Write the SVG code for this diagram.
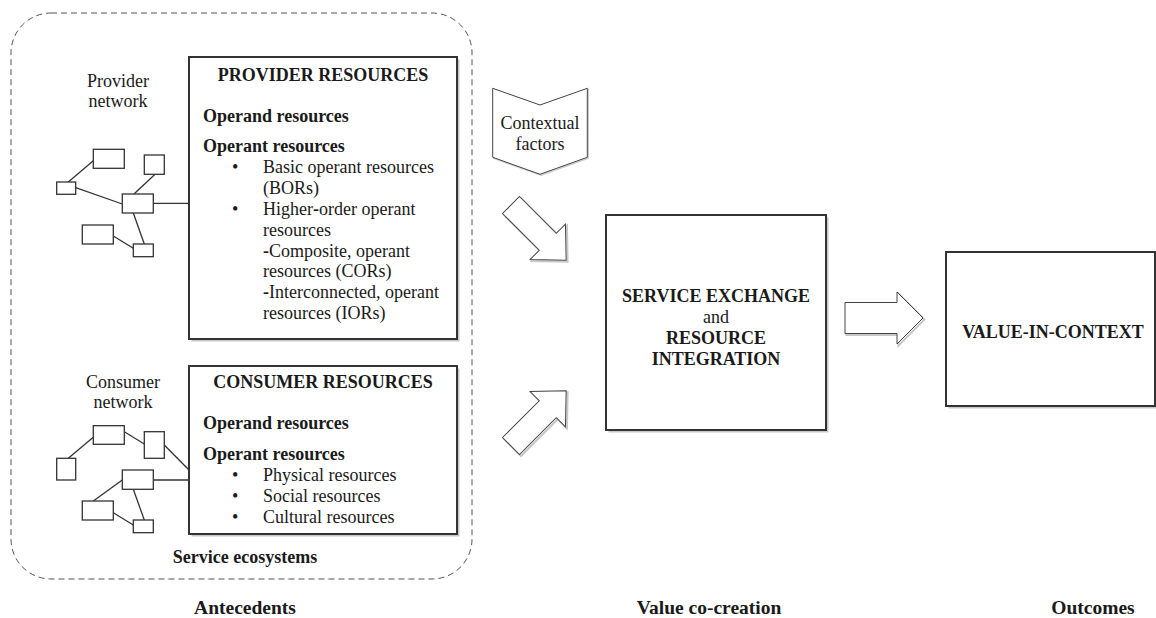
<svg xmlns="http://www.w3.org/2000/svg" width="1156" height="618" viewBox="0 0 1156 618">
<style>
text{font-family:"Liberation Serif","Times New Roman",serif;fill:#1a1a1a;font-size:18px}
.b{font-weight:bold}
.m{text-anchor:middle}
.box{fill:#fff;stroke:#333;stroke-width:2}
.shadow{fill:#c8c8c8;stroke:none}
.nd{fill:#fff;stroke:#333;stroke-width:1.3}
.ln{stroke:#333;stroke-width:1.3;fill:none}
.arr{fill:#fff;stroke:#444;stroke-width:1}
.arrs{fill:none;stroke:#c8c8c8;stroke-width:2}
</style>
<defs>
<path id="diag" d="M0,-12 H52 V-25 L78,0 L52,25 V12 H0 Z"/>
</defs>
<rect x="0" y="0" width="1156" height="618" fill="#fff"/>

<g id="ecosystem">
<rect x="11" y="13" width="461" height="566" rx="40" ry="40" fill="none" stroke="#555" stroke-width="1" stroke-dasharray="6 4"/>
<text class="b m" x="245" y="563">Service ecosystems</text>
</g>

<g id="provider-resources">
<rect class="shadow" x="191.5" y="59.5" width="268" height="282"/>
<rect class="box" x="189" y="57" width="268" height="282"/>
<text class="b m" x="323" y="81">PROVIDER RESOURCES</text>
<text class="b" x="203" y="122">Operand resources</text>
<text class="b" x="203" y="152">Operant resources</text>
<text x="232" y="173">•</text>
<text x="263" y="173">Basic operant resources</text>
<text x="263" y="194">(BORs)</text>
<text x="232" y="215">•</text>
<text x="263" y="215">Higher<tspan class="b">-</tspan>order operant</text>
<text x="263" y="235.5">resources</text>
<text x="263" y="256.5"><tspan class="b">-</tspan>Composite, operant</text>
<text x="263" y="277">resources (CORs)</text>
<text x="263" y="298"><tspan class="b">-</tspan>Interconnected, operant</text>
<text x="263" y="318.5">resources (IORs)</text>
</g>

<g id="consumer-resources">
<rect class="shadow" x="191.5" y="368.5" width="268" height="168"/>
<rect class="box" x="189" y="366" width="268" height="168"/>
<text class="b m" x="323" y="388">CONSUMER RESOURCES</text>
<text class="b" x="203" y="429">Operand resources</text>
<text class="b" x="203" y="460">Operant resources</text>
<text x="232" y="481">•</text>
<text x="263" y="481">Physical resources</text>
<text x="232" y="502">•</text>
<text x="263" y="502">Social resources</text>
<text x="232" y="523">•</text>
<text x="263" y="523">Cultural resources</text>
</g>

<g id="provider-network">
<text class="m" x="118" y="87">Provider</text>
<text class="m" x="118" y="107">network</text>
<g class="ln">
<line x1="68.3" y1="182" x2="93.3" y2="160.7"/>
<line x1="75.7" y1="187.7" x2="122.3" y2="204"/>
<line x1="155" y1="174.3" x2="134" y2="194"/>
<line x1="153.3" y1="203.3" x2="189" y2="203.3"/>
<line x1="133.3" y1="213" x2="144.3" y2="244"/>
<line x1="113.3" y1="236" x2="133.3" y2="248.3"/>
</g>
<rect class="nd" x="93.3" y="149.3" width="31" height="19"/>
<rect class="nd" x="144.3" y="155" width="20" height="19.3"/>
<rect class="nd" x="56.7" y="182" width="19" height="12.3"/>
<rect class="nd" x="122.3" y="194" width="31" height="19"/>
<rect class="nd" x="82.3" y="225" width="31" height="19"/>
<rect class="nd" x="133.3" y="244" width="20" height="12.7"/>
</g>

<g id="consumer-network">
<text class="m" x="123" y="388">Consumer</text>
<text class="m" x="123" y="408">network</text>
<g class="ln">
<line x1="68.3" y1="458.3" x2="93.3" y2="437.3"/>
<line x1="124.3" y1="431.7" x2="144.3" y2="444"/>
<line x1="164.3" y1="445" x2="189" y2="470"/>
<line x1="153.3" y1="480" x2="189" y2="480"/>
<line x1="122.3" y1="480" x2="93.3" y2="501"/>
<line x1="133.3" y1="489.3" x2="144.3" y2="520"/>
<line x1="113.3" y1="512.7" x2="133.3" y2="525"/>
</g>
<rect class="nd" x="93.3" y="425.7" width="31" height="18.6"/>
<rect class="nd" x="144.3" y="431.7" width="20" height="26.6"/>
<rect class="nd" x="56.7" y="458.3" width="19" height="21.7"/>
<rect class="nd" x="122.3" y="470" width="31" height="19.3"/>
<rect class="nd" x="82.3" y="501" width="31" height="19"/>
<rect class="nd" x="133.3" y="520" width="20" height="12.7"/>
</g>

<g id="contextual-factors">
<polygon points="493.7,89.3 541,106 588.3,89.3 588.3,158.3 541,175.3 493.7,158.3" fill="none" stroke="#ccc" stroke-width="1.5"/>
<polygon points="492.7,88.3 540,105 587.3,88.3 587.3,157.3 540,174.3 492.7,157.3" fill="#fff" stroke="#444" stroke-width="1"/>
<text class="m" x="540" y="129">Contextual</text>
<text class="m" x="540" y="150">factors</text>
</g>

<g id="service-exchange">
<rect class="shadow" x="608.5" y="217.5" width="220" height="215"/>
<rect class="box" x="606" y="215" width="220" height="215"/>
<text class="b m" x="716" y="302">SERVICE EXCHANGE</text>
<text class="m" x="716" y="323">and</text>
<text class="b m" x="716" y="344">RESOURCE</text>
<text class="b m" x="716" y="365">INTEGRATION</text>
</g>

<g id="value-in-context">
<rect class="shadow" x="948.5" y="254.5" width="209" height="154"/>
<rect class="box" x="946" y="252" width="209" height="154"/>
<text class="b m" x="1053" y="338">VALUE-IN-CONTEXT</text>
</g>

<g id="connectors">
<use href="#diag" class="arrs" transform="translate(512.5,206.5) rotate(45)"/>
<use href="#diag" class="arr" transform="translate(511,205) rotate(45)"/>
<use href="#diag" class="arrs" transform="translate(512.5,447.5) rotate(-45)"/>
<use href="#diag" class="arr" transform="translate(511,446) rotate(-45)"/>
<path class="arrs" d="M846.5,304 H898.5 V293.5 L924.5,319.5 L898.5,345.5 V335 H846.5 Z"/>
<path class="arr" d="M845,302.5 H897 V292 L923,318 L897,344 V333.5 H845 Z"/>
</g>

<g id="stage-labels">
<text class="b m" x="245" y="614" style="font-size:19.5px">Antecedents</text>
<text class="b m" x="709" y="614" style="font-size:19.5px">Value co-creation</text>
<text class="b m" x="1093" y="614" style="font-size:19.5px">Outcomes</text>
</g>
</svg>
